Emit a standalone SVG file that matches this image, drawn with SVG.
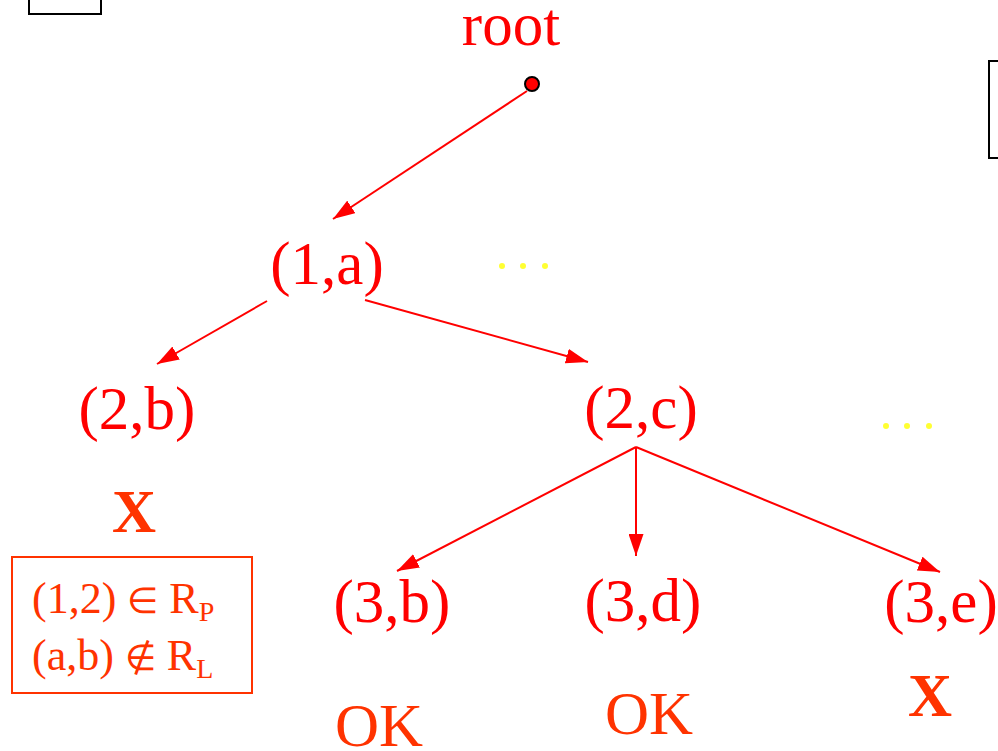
<svg xmlns="http://www.w3.org/2000/svg" width="998" height="751" viewBox="0 0 998 751">
<style>
.lbl{font-family:"Liberation Serif","Times New Roman",serif;font-size:61px;fill:#FF0000;text-anchor:middle}
.res{font-family:"Liberation Serif","Times New Roman",serif;font-size:61px;fill:#FF3300;text-anchor:middle}
.bx{font-family:"Liberation Serif","Times New Roman",serif;font-size:44px;fill:#FF3300}
.sym{font-size:36px}
.edge{stroke:#FF0000;stroke-width:2;fill:none}
.dot{fill:#FFFF33}
</style>
<defs>
<marker id="ah" markerWidth="22" markerHeight="15" refX="22" refY="7.5" orient="auto" markerUnits="userSpaceOnUse">
<path d="M0,0 L22,7.5 L0,15 Z" fill="#FF0000"/>
</marker>
</defs>
<rect width="998" height="751" fill="#FFFFFF"/>
<path d="M29,-2 V14 H101 V-2" fill="none" stroke="#000" stroke-width="2"/>
<path d="M1000,61 H989 V158 H1000" fill="none" stroke="#000" stroke-width="2"/>
<g id="connectors">
<line class="edge" x1="527" y1="91" x2="333" y2="219" marker-end="url(#ah)"/>
<line class="edge" x1="267" y1="301" x2="157" y2="364" marker-end="url(#ah)"/>
<line class="edge" x1="365" y1="300" x2="588" y2="362" marker-end="url(#ah)"/>
<line class="edge" x1="636" y1="447" x2="397" y2="571" marker-end="url(#ah)"/>
<line class="edge" x1="636" y1="447" x2="636" y2="556" marker-end="url(#ah)"/>
<line class="edge" x1="636" y1="447" x2="940" y2="572" marker-end="url(#ah)"/>
</g>
<g id="root">
<text class="lbl" x="511" y="45">root</text>
<circle cx="532" cy="84" r="7" fill="#FF0000" stroke="#000" stroke-width="2"/>
</g>
<g id="n1a"><text class="lbl" x="327" y="284">(1,a)</text></g>
<g id="dots1"><circle class="dot" cx="502" cy="266" r="3"/><circle class="dot" cx="523" cy="266" r="3"/><circle class="dot" cx="545" cy="266" r="3"/></g>
<g id="n2b"><text class="lbl" x="137" y="429">(2,b)</text></g>
<g id="n2c"><text class="lbl" x="641" y="428">(2,c)</text></g>
<g id="dots2"><circle class="dot" cx="886" cy="426" r="3"/><circle class="dot" cx="907" cy="426" r="3"/><circle class="dot" cx="929" cy="426" r="3"/></g>
<g id="x2b"><text class="res" x="134" y="532" font-weight="bold">X</text></g>
<g id="note">
<rect x="12" y="557" width="240" height="136" fill="none" stroke="#FF3300" stroke-width="2"/>
<text class="bx" x="32" y="613">(1,2) <tspan class="sym">∈</tspan> R<tspan font-size="28" dy="8">P</tspan></text>
<text class="bx" x="32" y="670">(a,b) <tspan class="sym">∉</tspan> R<tspan font-size="28" dy="8">L</tspan></text>
</g>
<g id="n3b"><text class="lbl" x="392" y="622">(3,b)</text></g>
<g id="n3d"><text class="lbl" x="643" y="621">(3,d)</text></g>
<g id="n3e"><text class="lbl" x="941" y="622">(3,e)</text></g>
<g id="ok3b"><text class="res" x="379" y="746">OK</text></g>
<g id="ok3d"><text class="res" x="649" y="734">OK</text></g>
<g id="x3e"><text class="res" x="930" y="716" font-weight="bold">X</text></g>
</svg>
